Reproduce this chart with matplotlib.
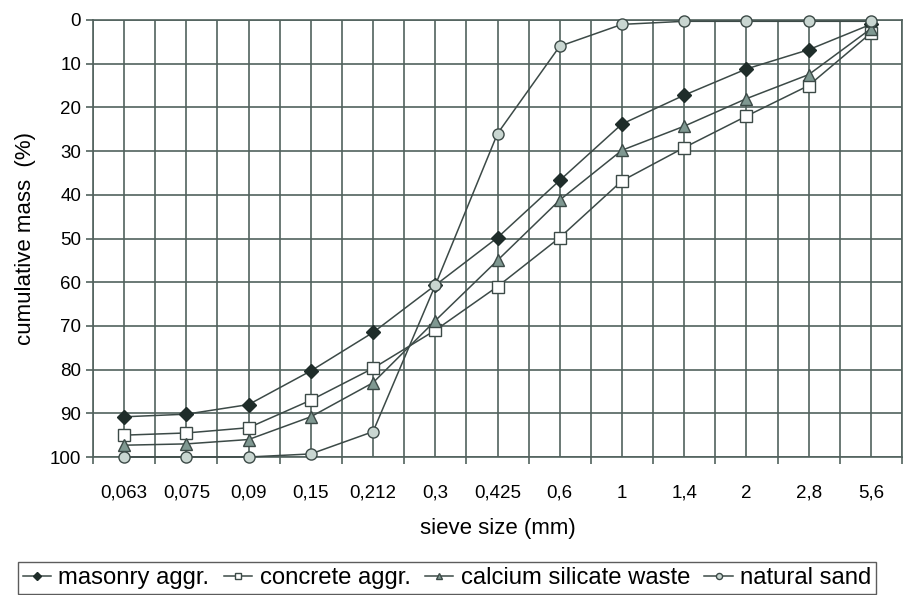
import matplotlib.pyplot as plt
import numpy as np

sieve = ["0,063", "0,075", "0,09", "0,15", "0,212", "0,3", "0,425",
         "0,6", "1", "1,4", "2", "2,8", "5,6"]
masonry = [90.8, 90.2, 88.0, 80.3, 71.5, 60.7, 49.8, 36.7, 23.8, 17.2, 11.2, 6.8, 1.0]
concrete = [95.0, 94.5, 93.3, 87.0, 79.7, 71.0, 61.0, 49.8, 36.8, 29.2, 22.0, 15.0, 3.0]
calcium = [97.3, 97.0, 96.0, 90.8, 83.0, 68.8, 55.0, 41.2, 29.8, 24.3, 18.0, 12.5, 2.0]
sand = [100.0, 100.0, 100.0, 99.3, 94.2, 60.7, 26.0, 6.0, 1.0, 0.3, 0.3, 0.3, 0.3]

LINE = "#3c4a47"
GRID = "#52625e"

plt.rcParams["font.family"] = ["Liberation Sans", "DejaVu Sans"]

fig = plt.figure(figsize=(9.05, 5.95), dpi=100)
ax = fig.add_axes([93 / 905, 1 - 457 / 595, (902 - 93) / 905, (457 - 20) / 595])

x = np.arange(len(sieve))
ax.plot(x, masonry, color=LINE, lw=1.1, marker="D", ms=7, mfc="#1f2d2a",
        mec="#1f2d2a", label="masonry aggr.", zorder=3, clip_on=False)
ax.plot(x, concrete, color=LINE, lw=1.1, marker="s", ms=9, mfc="white",
        mec=LINE, label="concrete aggr.", zorder=3, clip_on=False)
ax.plot(x, calcium, color=LINE, lw=1.1, marker="^", ms=9, mfc="#7f9891",
        mec=LINE, label="calcium silicate waste", zorder=3, clip_on=False)
ax.plot(x, sand, color=LINE, lw=1.1, marker="o", ms=8, mfc="#c9d6d1",
        mec=LINE, label="natural sand", zorder=4, clip_on=False)

ax.set_xlim(-0.5, len(sieve) - 0.5)
ax.set_ylim(100, 0)
ax.set_yticks(range(0, 101, 10))
ax.set_xticks(x)
ax.set_xticklabels(sieve)
ax.set_xticks(np.arange(-0.5, len(sieve), 1.0), minor=True)
ax.tick_params(axis="x", which="major", length=0, labelsize=13.5, pad=20)
ax.tick_params(axis="x", which="minor", length=5, color=GRID, width=1.2)
ax.tick_params(axis="y", length=5, color=GRID, width=1.2, labelsize=13.5)

ax.grid(True, which="both", axis="x", color=GRID, lw=1.2)
ax.grid(True, axis="y", color=GRID, lw=1.2)
for s in ax.spines.values():
    s.set_color(GRID)
    s.set_linewidth(1.2)

ax.set_xlabel("sieve size (mm)", fontsize=16, labelpad=12)
ax.set_ylabel("cumulative mass  (%)", fontsize=16, labelpad=10)

leg = fig.legend(loc="center", bbox_to_anchor=(447 / 905, 1 - 578 / 595), ncol=4,
                 fontsize=17.2, frameon=True, fancybox=False, edgecolor="#333333",
                 handlelength=1.2, handletextpad=0.3, columnspacing=0.6,
                 borderpad=0.2, markerscale=0.55)
leg.get_frame().set_linewidth(1.0)

fig.savefig("out.png", dpi=100)
